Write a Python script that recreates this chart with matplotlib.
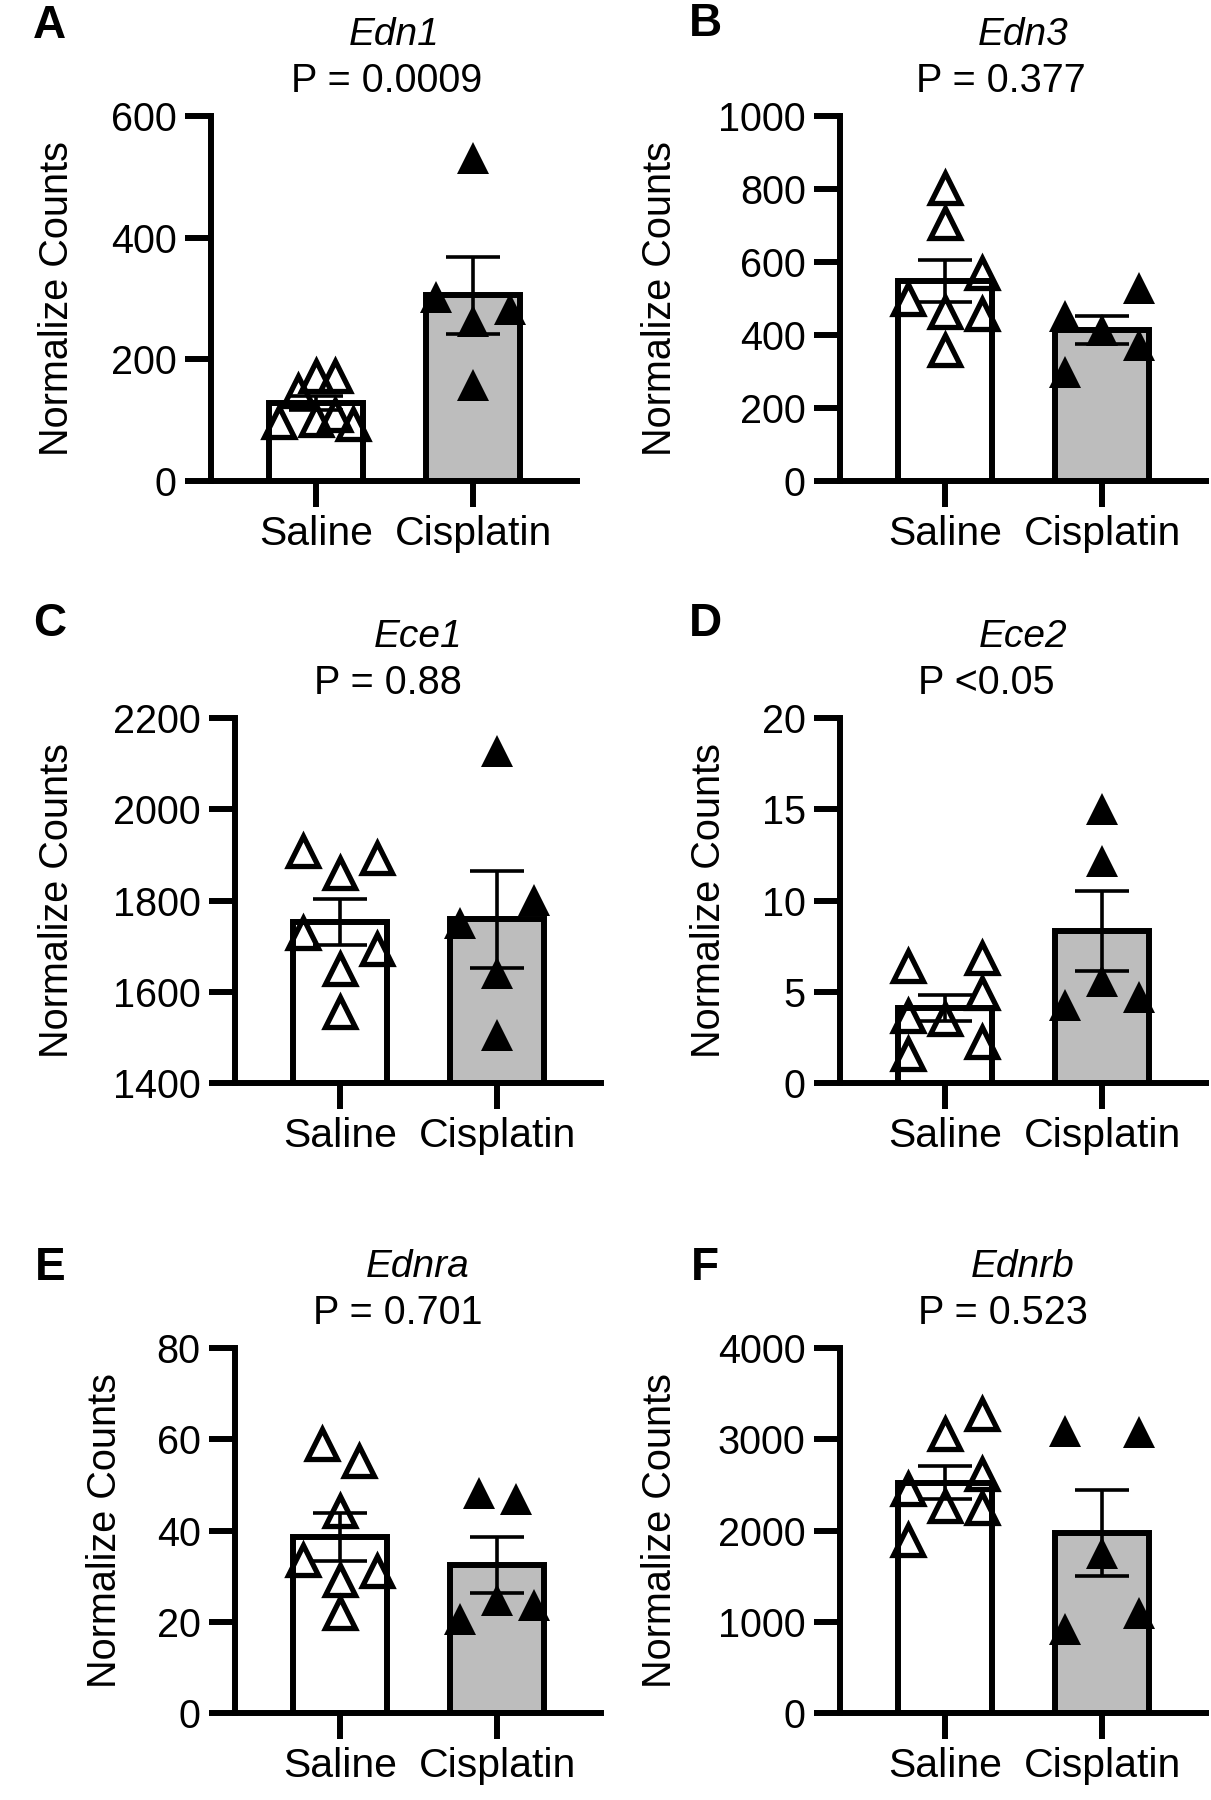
import numpy as np
import matplotlib
matplotlib.use("Agg")
import matplotlib.pyplot as plt

plt.rcParams['font.family'] = ['Liberation Sans', 'DejaVu Sans']

groups = ['Saline', 'Cisplatin']
genes = ['Edn1', 'Edn3', 'Ece1', 'Ece2', 'Ednra', 'Ednrb']
p_labels = ['P = 0.0009', 'P = 0.377', 'P = 0.88', 'P <0.05', 'P = 0.701', 'P = 0.523']
letters = ['A', 'B', 'C', 'D', 'E', 'F']

# y axis range and tick step of each panel
y_min = [0, 0, 1400, 0, 0, 0]
y_max = [600, 1000, 2200, 20, 80, 4000]
y_step = [200, 200, 200, 5, 20, 1000]

# bar heights (mean) and SEM
saline_mean = [128, 548, 1753, 4.12, 38.6, 2526]
saline_sem = [12, 57, 51, 0.72, 5.3, 180]
cis_mean = [305, 414, 1759, 8.32, 32.5, 1970]
cis_sem = [63, 38, 106, 2.2, 6.1, 470]

# individual animals
saline_pts = [
    [97, 148, 173, 173, 100, 109, 94],
    [802, 708, 499, 570, 463, 458, 359],
    [1909, 1860, 1893, 1728, 1694, 1650, 1556],
    [6.42, 6.86, 4.93, 3.67, 3.51, 2.25, 1.58],
    [58.9, 55.2, 44.3, 33.5, 31.1, 29.2, 21.9],
    [3281, 3058, 2619, 2457, 2266, 2246, 1900],
]
cis_pts = [
    [531, 303, 263, 283, 157],
    [453, 415, 530, 372, 300],
    [2128, 1751, 1801, 1641, 1505],
    [15.04, 12.14, 5.6, 4.28, 4.69],
    [48.2, 46.9, 24.8, 20.5, 23.6],
    [3086, 3078, 1758, 926, 1096],
]
# scatter column of each point (half-steps left/right of the bar centre)
saline_slot = [
    [-2, -1, 0, 1, 0, 1, 2],
    [0, 0, -2, 2, 0, 2, 0],
    [-2, 0, 2, -2, 2, 0, 0],
    [-2, 2, 2, -2, 0, 2, -2],
    [-1, 1, 0, -2, 2, 0, 0],
    [2, 0, 2, -2, 0, 2, -2],
]
cis_slot = [
    [0, -2, 0, 2, 0],
    [-2, 0, 2, 2, -2],
    [0, -2, 2, 0, 0],
    [0, 0, 0, -2, 2],
    [-1, 1, 0, -2, 2],
    [-2, 2, 0, -2, 2],
]

# layout in pixels
W, H = 1211, 1800
AX_W, AX_H = 366, 365
ax_left = [211, 840, 235, 840, 235, 840]
ax_top = [116, 116, 718, 718, 1348, 1348]
ylab_x = [57, 660, 57, 709, 105, 660]
p_x = [387, 1001, 388, 986, 398, 1003]
letter_xy = [(49, 26), (705, 24), (50, 624), (705, 624), (50, 1268), (705, 1268)]

LW = 4.3
SLOT = 0.118

fig = plt.figure(figsize=(W / 100, H / 100), dpi=100)


def fx(x):
    return x / W


def fy(y):
    return 1 - y / H


for i in range(6):
    ax = fig.add_axes([fx(ax_left[i]), fy(ax_top[i] + AX_H), AX_W / W, AX_H / H])
    base = y_min[i]

    ax.bar([0], [saline_mean[i] - base], bottom=base, width=0.6, color='white',
           edgecolor='black', linewidth=LW, zorder=2)
    ax.bar([1], [cis_mean[i] - base], bottom=base, width=0.6, color='#bdbdbd',
           edgecolor='black', linewidth=LW, zorder=2)

    xs = np.array(saline_slot[i]) * SLOT
    ax.plot(xs, saline_pts[i], '^', ms=21.5, mfc='none', mec='black', mew=3.8,
            zorder=3, clip_on=False)
    xc = 1 + np.array(cis_slot[i]) * SLOT
    ax.plot(xc, cis_pts[i], '^', ms=23.5, color='black', mew=0, zorder=3, clip_on=False)

    ax.errorbar([0, 1], [saline_mean[i], cis_mean[i]], yerr=[saline_sem[i], cis_sem[i]],
                fmt='none', ecolor='black', elinewidth=2.6, capsize=19.5, capthick=2.6,
                zorder=4)

    ax.set_xlim(-0.67, 1.66)
    ax.set_ylim(y_min[i], y_max[i])
    ax.set_yticks(np.arange(y_min[i], y_max[i] + y_step[i] / 2, y_step[i]))
    ax.set_xticks([0, 1])
    ax.set_xticklabels(groups)
    ax.tick_params(axis='y', labelsize=28.5, length=18.7, width=LW, pad=6)
    ax.tick_params(axis='x', labelsize=29.5, length=18.7, width=LW, pad=6)
    for s in ['top', 'right']:
        ax.spines[s].set_visible(False)
    for s in ['left', 'bottom']:
        ax.spines[s].set_linewidth(LW)
    ax.patch.set_alpha(0)

    cx = ax_left[i] + AX_W / 2
    fig.text(fx(cx), fy(ax_top[i] - 81), genes[i], fontsize=28, style='italic',
             ha='center', va='center')
    fig.text(fx(p_x[i]), fy(ax_top[i] - 35), p_labels[i], fontsize=28.5,
             ha='center', va='center')
    fig.text(fx(ylab_x[i]), fy(ax_top[i] + AX_H / 2), 'Normalize Counts', fontsize=28.5,
             rotation=90, ha='center', va='center')
    lx, ly = letter_xy[i]
    fig.text(fx(lx), fy(ly), letters[i], fontsize=33, fontweight='bold',
             ha='center', va='center')

fig.savefig('out.png', dpi=100, facecolor='white')
